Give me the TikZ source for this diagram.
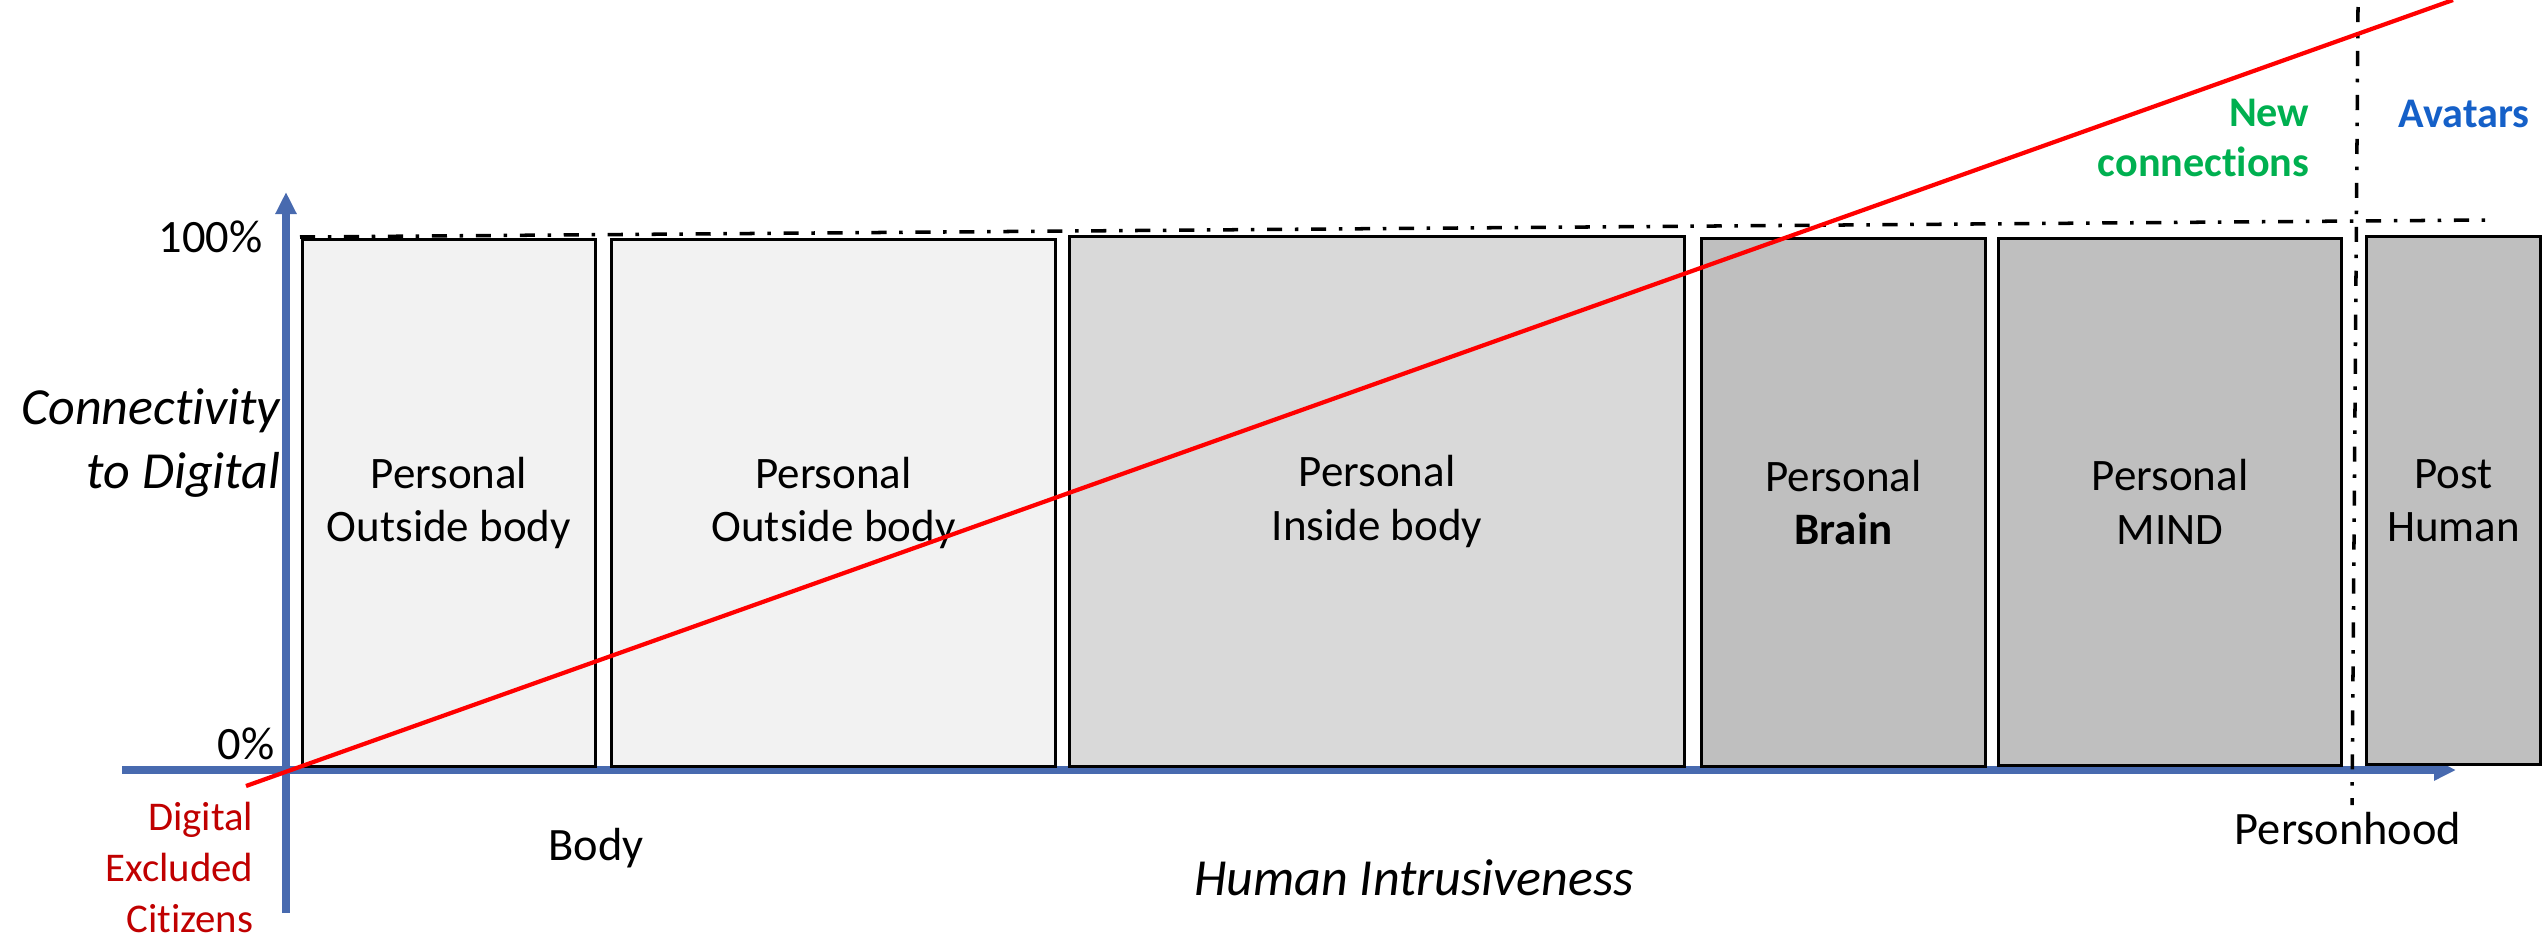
\documentclass[tikz,border=0pt]{standalone}
\usepackage{fontspec}
\setmainfont{Carlito}[Ligatures=NoCommon]
\usetikzlibrary{arrows.meta}

\definecolor{axisblue}{RGB}{72,106,175}
\definecolor{boxlight}{HTML}{F2F2F2}
\definecolor{boxmid}{HTML}{D9D9D9}
\definecolor{boxdark}{HTML}{BFBFBF}
\definecolor{exclred}{HTML}{C00000}
\definecolor{newgreen}{HTML}{00B050}
\definecolor{avatarblue}{RGB}{21,96,200}

\begin{document}
\begin{tikzpicture}[x=0.01cm,y=-0.01cm,
  every node/.style={inner sep=0pt},
  axis/.style={line width=2.2pt,axisblue,-{Triangle[length=0.22cm,width=0.2cm]}},
  blk/.style={draw,line width=0.8pt,anchor=north west,align=center,
    font=\fontsize{12.8}{15.2}\selectfont},
  dashdot/.style={line width=1pt,dash pattern=on 4.3pt off 3.6pt on 1pt off 3.6pt},
  lbl/.style={font=\fontsize{13.2}{16}\selectfont},
  ttl/.style={font=\fontsize{14.8}{18.2}\selectfont\itshape,align=right}]
  \useasboundingbox (0,0) rectangle (2542,939);

  % Axes
  \coordinate (xs) at (122,770);
  \coordinate (xe) at (2456,770);
  \coordinate (ys) at (286,913);
  \coordinate (ye) at (286,192);
  \draw[axis] (xs) -- (xe);
  \draw[axis] (ys) -- (ye);

  % Boxes
  \node[blk,fill=boxlight,minimum width=2.93cm,minimum height=5.27cm] (out1) at (301,238) {Personal\\Outside body};
  \node[blk,fill=boxlight,minimum width=4.44cm,minimum height=5.27cm] (out2) at (610,238) {Personal\\Outside body};
  \node[blk,fill=boxmid,minimum width=6.15cm,minimum height=5.30cm] (inside) at (1068,235) {Personal\\Inside body};
  \node[blk,fill=boxdark,minimum width=2.84cm,minimum height=5.28cm] (brain) at (1700,237) {Personal\\\textbf{Brain}};
  \node[blk,fill=boxdark,minimum width=3.43cm,minimum height=5.27cm] (mind) at (1997,237) {Personal\\MIND};
  \node[blk,fill=boxdark,minimum width=1.74cm,minimum height=5.28cm] (post) at (2365,235) {Post\\Human};

  % Limits
  \coordinate (hs) at (300,237);
  \coordinate (he) at (2486,220);
  \draw[dashdot] (hs) -- (he);
  \coordinate (vs) at (2358,7);
  \coordinate (ve) at (2352,805);
  \draw[dashdot] (vs) -- (ve);

  % Trend
  \coordinate (rs) at (246,786);
  \coordinate (re) at (2453,0);
  \draw[red,line width=1.2pt] (rs) -- (re);

  % Labels
  \node[lbl,anchor=east] (top) at (263,237) {100\%};
  \node[lbl,anchor=east] (zero) at (275,744) {0\%};
  \node[ttl,anchor=east] (conn) at (281,443) {Connectivity\\to Digital};
  \node[ttl,anchor=base] (intr) at (1414,895) {Human Intrusiveness};
  \node[lbl,anchor=base] (body) at (596,860) {Body};
  \node[lbl,anchor=base] (pers) at (2348,844) {Personhood};
  \node[exclred,align=right,anchor=east,font=\fontsize{11.6}{14.5}\selectfont] (excl) at (254,867) {Digital\\Excluded\\Citizens};
  \node[newgreen,align=right,anchor=east,font=\fontsize{12}{14.2}\selectfont\bfseries] (newc) at (2310,138) {New\\connections};
  \node[avatarblue,anchor=base west,font=\fontsize{12}{14.4}\selectfont\bfseries] (avat) at (2398,127) {Avatars};

\end{tikzpicture}
\end{document}
